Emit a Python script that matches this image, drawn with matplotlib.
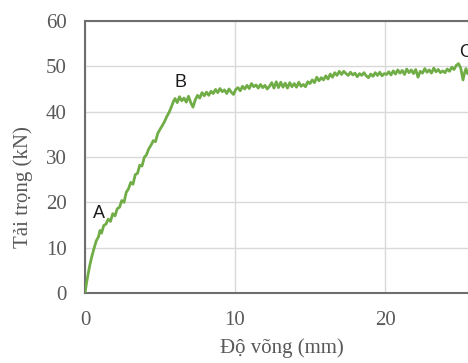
import numpy as np
import matplotlib.pyplot as plt

# rising branch
deflRise = [0, 0.1, 0.2, 0.3, 0.45, 0.6, 0.75, 0.9, 1.0, 1.1, 1.25, 1.4, 1.55, 1.7, 1.85,
            2.0, 2.15, 2.3, 2.45, 2.6, 2.75, 2.9, 3.05, 3.2, 3.35, 3.5, 3.65, 3.8, 3.95,
            4.1, 4.25, 4.4, 4.55, 4.7, 4.85, 5.0, 5.15, 5.3, 5.45, 5.6, 5.75, 5.9, 6.0]
loadRise = [0, 2.2, 4.0, 5.8, 8.0, 9.8, 11.5, 12.4, 13.8, 13.2, 14.9, 15.2, 16.3, 15.8, 17.5,
            17.0, 18.6, 18.9, 20.4, 20.0, 22.2, 23.0, 24.4, 24.0, 26.1, 26.4, 28.2, 28.0, 29.9,
            30.5, 31.8, 32.6, 33.6, 33.4, 35.2, 36.1, 36.9, 37.8, 38.9, 39.8, 41.0, 42.3, 42.9]

# plateau branch
deflPlat = [6.15, 6.3, 6.45, 6.6, 6.75, 6.9, 7.05, 7.2, 7.35, 7.5, 7.65, 7.8, 7.95, 8.1, 8.25,
            8.4, 8.55, 8.7, 8.85, 9.0, 9.15, 9.3, 9.45, 9.6, 9.75, 9.9, 10.05, 10.2, 10.35,
            10.5, 10.65, 10.8, 10.95, 11.1, 11.25, 11.4, 11.55, 11.7, 11.85, 12.0, 12.15,
            12.3, 12.45, 12.6, 12.75, 12.9, 13.05, 13.2, 13.35, 13.5, 13.65, 13.8, 13.95,
            14.1, 14.25, 14.4, 14.55, 14.7, 14.85, 15.0, 15.15, 15.3, 15.45, 15.6, 15.75,
            15.9, 16.05, 16.2, 16.35, 16.5, 16.65, 16.8, 16.95, 17.1, 17.25, 17.4, 17.55,
            17.7, 17.85, 18.0, 18.15, 18.3, 18.45, 18.6, 18.75, 18.9, 19.05, 19.2, 19.35,
            19.5, 19.65, 19.8, 19.95, 20.1, 20.25, 20.4, 20.55, 20.7, 20.85, 21.0, 21.15,
            21.3, 21.45, 21.6, 21.75, 21.9, 22.05, 22.2, 22.35, 22.5, 22.65, 22.8, 22.95,
            23.1, 23.25, 23.4, 23.55, 23.7, 23.85, 24.0, 24.15, 24.3, 24.45, 24.6, 24.75,
            24.9, 25.05, 25.2, 25.3, 25.4, 25.5, 25.6]
loadPlat = [42.0, 43.3, 42.4, 43.0, 42.1, 43.4, 42.0, 41.0, 42.6, 43.6, 43.0, 44.2, 43.5, 44.3, 43.6,
            44.5, 44.0, 44.9, 44.2, 45.1, 44.4, 44.8, 44.0, 45.0, 44.3, 43.8, 44.9, 45.3, 44.6,
            45.6, 45.0, 45.8, 45.1, 46.2, 45.5, 45.9, 45.2, 46.0, 45.3, 45.8, 45.0,
            45.6, 46.4, 45.2, 46.6, 45.3, 46.5, 45.4, 46.3, 45.2, 46.4, 45.5, 46.2,
            45.4, 46.5, 45.6, 46.0, 45.5, 46.6, 46.2, 47.0, 46.4, 47.6, 46.8, 47.5,
            47.0, 47.9, 47.2, 48.3, 47.6, 48.6, 48.0, 48.9, 48.2, 48.9, 48.4, 48.0,
            48.7, 48.1, 48.5, 47.7, 48.4, 48.0, 48.6, 47.9, 47.5, 48.3, 47.8, 48.6,
            48.0, 48.7, 47.9, 48.4, 48.2, 48.8, 48.1, 49.0, 48.3, 49.2, 48.5, 49.1,
            48.2, 49.4, 48.6, 49.2, 48.4, 49.3, 47.6, 48.9, 48.5, 49.5, 48.7, 49.2,
            48.5, 49.6, 48.8, 49.3, 48.6, 49.0, 48.6, 49.4, 48.9, 49.8, 49.3, 50.2,
            50.6, 49.6, 47.0, 48.5, 49.5, 48.4, 49.0]

pointNames = ['A', 'B', 'C']
pointDefl = [0.9, 6.4, 25.4]
pointLoad = [17.6, 46.5, 53.0]

deflection = np.array(deflRise + deflPlat)
load = np.array(loadRise + loadPlat)

fig = plt.figure(figsize=(4.68, 3.63), dpi=100)
# right edge of the plot area lies outside the picture
ax = fig.add_axes([85 / 468, 70 / 363, 450 / 468, 272 / 363])

ax.plot(deflection, load, color='#70AD47', linewidth=2.0, zorder=3)

for name, xv, yv in zip(pointNames, pointDefl, pointLoad):
    ax.text(xv, yv, name, fontsize=13, family='Liberation Sans', color='#1a1a1a',
            ha='center', va='center', zorder=4)

ax.set_xlim(0, 30)
ax.set_ylim(0, 60)
ax.set_xticks([0, 10, 20])
ax.set_yticks(range(0, 61, 10))
ax.grid(True, color='#d9d9d9', linewidth=1.0)
ax.set_axisbelow(True)

for side in ['left', 'bottom', 'top', 'right']:
    ax.spines[side].set_color('#6e6e6e')
    ax.spines[side].set_linewidth(1.5)

ax.tick_params(length=0, labelsize=15, labelcolor='#595959', pad=13)
for lbl in ax.get_xticklabels() + ax.get_yticklabels():
    lbl.set_family('Liberation Serif')

ax.set_xlabel('Độ võng (mm)', family='Liberation Serif', fontsize=15, color='#595959')
ax.set_ylabel('Tải trọng (kN)', family='Liberation Serif', fontsize=15, color='#595959')
ax.xaxis.set_label_coords(197 / 450, -45 / 272)
ax.yaxis.set_label_coords(-52 / 450, 106 / 272)

fig.savefig('out.png', dpi=100)
